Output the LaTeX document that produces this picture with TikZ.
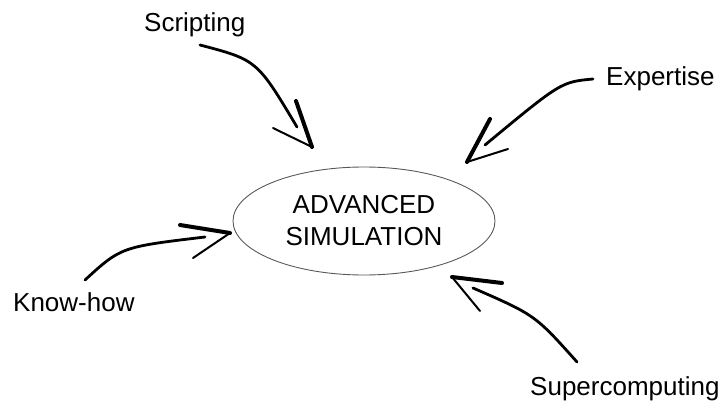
\documentclass[tikz,border=0pt]{standalone}
\usepackage{fontspec}
\setmainfont{Liberation Sans}
\begin{document}
\begin{tikzpicture}[x=1pt,y=-1pt,
  lbl/.style={font=\fontsize{26}{30}\selectfont, inner sep=0pt, anchor=base west},
  stroke/.style={line width=2.8pt, line cap=round, black},
  armthick/.style={line width=4pt, line cap=round, black},
  armthin/.style={line width=2pt, line cap=round, black}]
\useasboundingbox (0,0) rectangle (725,401);
% central ellipse
\draw[line width=0.9pt, black!65] (364,221) ellipse [x radius=131, y radius=54];
\node (center) at (364,221) [font=\fontsize{26}{32}\selectfont, align=center, inner sep=0pt] {ADVANCED\\SIMULATION};
% labels
\node[lbl] (scr) at (144,32) {Scripting};
\node[lbl] (exp) at (606,86) {Expertise};
\node[lbl] (kh) at (13,311) {Know-how};
\node[lbl] (sup) at (530,395) {Supercomputing};
% Scripting arrow
\coordinate (s0) at (200,45); \coordinate (s1) at (297,127);
\coordinate (st) at (312,147); \coordinate (sa) at (296,101); \coordinate (sb) at (273,128);
\draw[stroke] (s0) .. controls (257,60) .. (s1);
\draw[armthick] (sa) -- (st); \draw[armthin] (sb) -- (st);
% Expertise arrow
\coordinate (e0) at (593,79); \coordinate (e1) at (485,145);
\coordinate (et) at (467,162); \coordinate (ea) at (490,119); \coordinate (eb) at (508,149);
\draw[stroke] (e0) .. controls (561,82) .. (e1);
\draw[armthick] (ea) -- (et); \draw[armthin] (eb) -- (et);
% Know-how arrow
\coordinate (k0) at (85,280); \coordinate (k1) at (205,237);
\coordinate (kt) at (230,233); \coordinate (ka) at (180,225); \coordinate (kb) at (193,258);
\draw[stroke] (k0) .. controls (121,247) .. (k1);
\draw[armthick] (ka) -- (kt); \draw[armthin] (kb) -- (kt);
% Supercomputing arrow
\coordinate (p0) at (577,362); \coordinate (p1) at (473,288);
\coordinate (pt) at (452,277); \coordinate (pa) at (502,283); \coordinate (pb) at (480,311);
\draw[stroke] (p0) .. controls (535,315) .. (p1);
\draw[armthick] (pa) -- (pt); \draw[armthin] (pb) -- (pt);
\end{tikzpicture}
\end{document}
